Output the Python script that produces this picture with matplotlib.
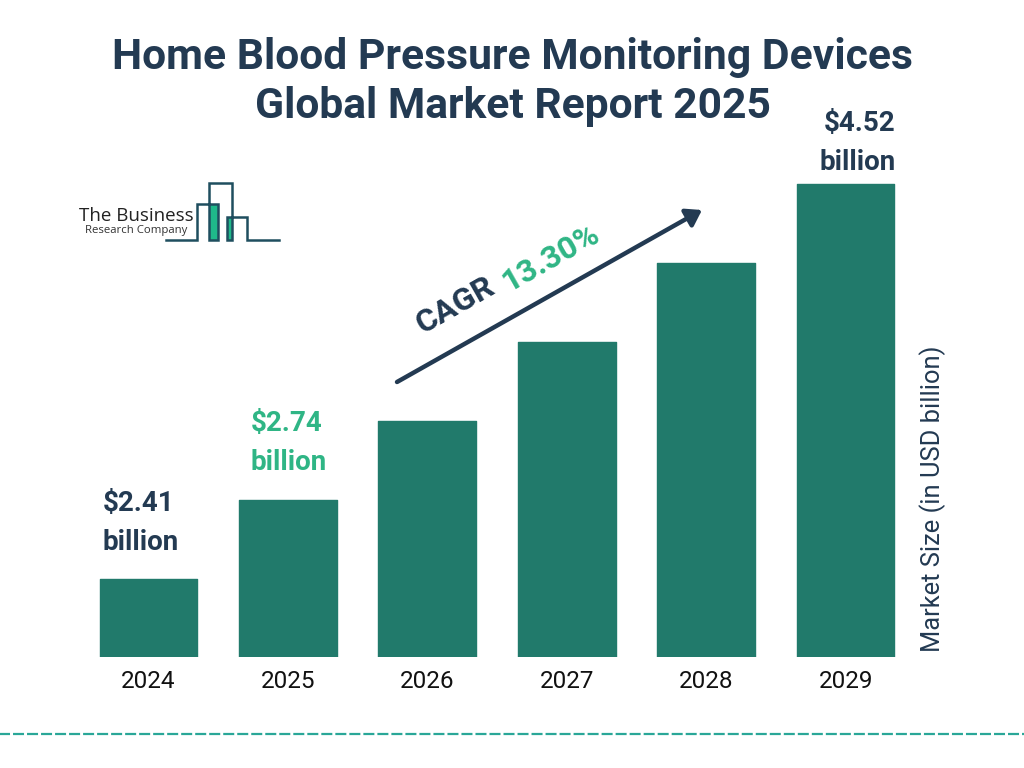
import matplotlib
matplotlib.use("Agg")
import matplotlib.pyplot as plt
from matplotlib.patches import Rectangle

years = ["2024", "2025", "2026", "2027", "2028", "2029"]
# Bars in the reference rise in equal visual steps, not to scale with the labels,
# so these are heights (pixels above the baseline).
bar_heights = [78, 157, 236, 315, 394, 473]
label_texts = ["$2.41\nbillion", "$2.74\nbillion", None, None, None, "$4.52\nbillion"]
title_lines = ["Home Blood Pressure Monitoring Devices", "Global Market Report 2025"]

BAR = "#217a6b"
GREEN = "#2fb585"
NAVY = "#233a52"
LOGO = "#1f4e5f"
DASH = "#2aa798"

plt.rcParams["font.family"] = ["Roboto", "DejaVu Sans"]
W, H = 1024, 768
fig = plt.figure(figsize=(W / 100, H / 100), dpi=100, facecolor="white")

# Bar axes: baseline at pixel y=657
left, right, top, base = 78.6, 915.4, 100, 657
ax = fig.add_axes([left / W, 1 - base / H, (right - left) / W, (base - top) / H])
ax.set_xlim(-0.5, 5.5)
ax.set_ylim(0, base - top)
ax.bar(range(len(years)), bar_heights, width=0.70, color=BAR, edgecolor=BAR, linewidth=1.0,
       joinstyle="round")
ax.set_xticks(range(len(years)), years)
ax.tick_params(axis="x", length=0, pad=9.5, labelsize=17.5, labelcolor="#111111")
ax.set_yticks([])
for s in ax.spines.values():
    s.set_visible(False)
ax.patch.set_alpha(0)

# Overlay in pixel coordinates
ov = fig.add_axes([0, 0, 1, 1], zorder=5)
ov.set_xlim(0, W)
ov.set_ylim(H, 0)
ov.axis("off")

ov.text(512, 57.5, title_lines[0], ha="center", va="center", fontsize=30.7, fontweight="bold", color=NAVY)
ov.text(513, 106.5, title_lines[1], ha="center", va="center", fontsize=30.7, fontweight="bold", color=NAVY)

lab_pos = [(103, 503, "left", NAVY), (251, 423, "left", GREEN), (895.5, 123, "right", NAVY)]
for txt, (x, y, ha, c) in zip([t for t in label_texts if t], lab_pos):
    a, b = txt.split("\n")
    ov.text(x, y, a.replace("$", r"\$"), ha=ha, va="center", fontsize=20, fontweight="bold", color=c)
    ov.text(x, y + 39, b, ha=ha, va="center", fontsize=20, fontweight="bold", color=c)

ov.text(933, 499, "Market Size (in USD billion)", rotation=90, ha="center", va="center",
        fontsize=18.4, color=NAVY)

# CAGR arrow and text
ov.annotate("", xy=(702, 210), xytext=(397, 382),
            arrowprops=dict(arrowstyle="-|>,head_length=0.45,head_width=0.3", color=NAVY, lw=3.2,
                            shrinkA=0, shrinkB=0, mutation_scale=20))
ov.text(455, 305, "CAGR", rotation=29.5, rotation_mode="anchor", ha="center", va="center",
        fontsize=23.2, fontweight="bold", color=NAVY)
ov.text(550, 258, "13.30%", rotation=29.5, rotation_mode="anchor", ha="center", va="center",
        fontsize=23.2, fontweight="bold", color=GREEN)

# Logo
ov.add_patch(Rectangle((209, 204), 9, 36, color="#1fb98a", lw=0))
ov.add_patch(Rectangle((227, 217), 4.5, 23, color="#1fb98a", lw=0))
ov.plot([166, 197, 197, 218, 218, 209, 209, 232, 232, 227, 227, 247, 247, 279],
        [240, 240, 204, 204, 240, 240, 183, 183, 240, 240, 217, 217, 240, 240],
        color=LOGO, lw=1.8, solid_joinstyle="miter")
ov.text(79, 216, "The Business", ha="left", va="center", fontsize=13.5, color="#222222",
        family=["Open Sans", "DejaVu Sans"])
ov.text(85, 230, "Research Company", ha="left", va="center", fontsize=8.2, color="#333333",
        family=["Open Sans", "DejaVu Sans"])

# Bottom dashed rule (period 14 px, dash 11 px)
ov.plot([-4, W], [734, 734], color=DASH, lw=1.6, linestyle=(0, (11 / 2.22, 3 / 2.22)),
        dash_capstyle="butt")

fig.savefig("out.png", dpi=100)
